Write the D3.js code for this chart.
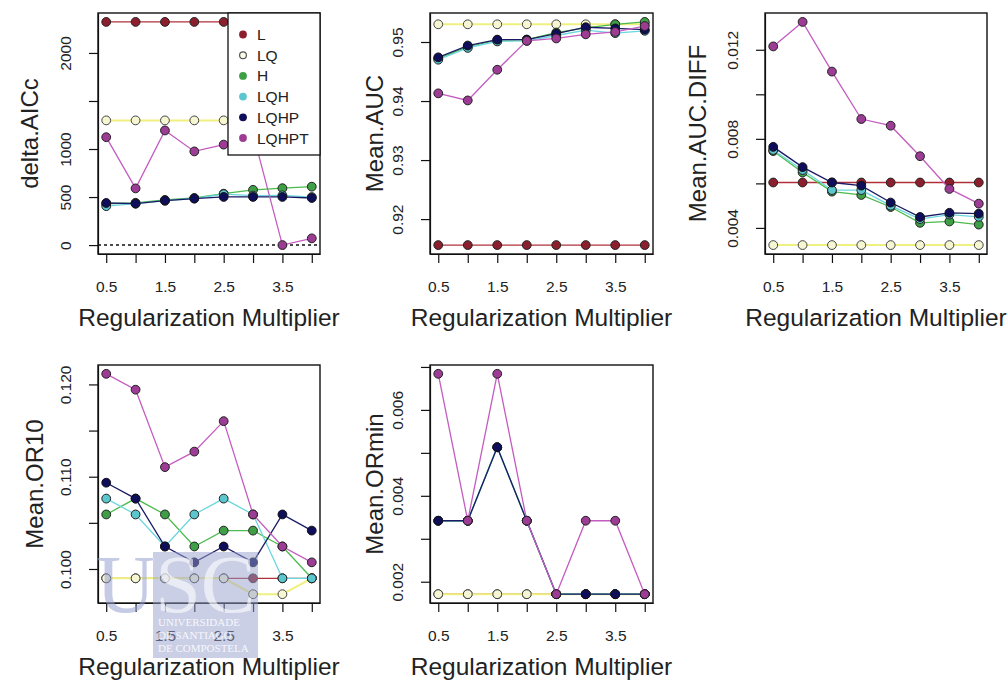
<!DOCTYPE html>
<html>
<head>
<meta charset="utf-8">
<script src="https://cdn.jsdelivr.net/npm/d3@7"></script>
<style>
  html, body { margin: 0; padding: 0; background: #fff; }
  svg { display: block; }
  text { font-family: "Liberation Sans", Arial, Helvetica, sans-serif; fill: #222; }
</style>
</head>
<body>
<svg id="chart" width="1008" height="690"></svg>
<script>
// Regularization multipliers tested for each feature-class set
const rm = [0.5, 1, 1.5, 2, 2.5, 3, 3.5, 4];
const models = ["L", "LQ", "H", "LQH", "LQHP", "LQHPT"];

// One row per model (same order as `models`), one value per multiplier
const deltaAICc = [
  [2323, 2323, 2323, 2323, 2323, 2323, 2323, 2323],
  [1298, 1298, 1298, 1298, 1298, 1298, 1298, 1298],
  [430, 440, 470, 490, 535, 575, 592, 608],
  [405, 432, 462, 485, 530, 515, 518, 500],
  [438, 431, 463, 484, 501, 501, 501, 490],
  [1123, 590, 1193, 975, 1046, 1160, 0, 70]
];
const meanAUC = [
  [0.9156, 0.9156, 0.9156, 0.9156, 0.9156, 0.9156, 0.9156, 0.9156],
  [0.9530, 0.9530, 0.9530, 0.9530, 0.9530, 0.9530, 0.9530, 0.9530],
  [0.9472, 0.9492, 0.9503, 0.9504, 0.9516, 0.9524, 0.9530, 0.9534],
  [0.9470, 0.9490, 0.9501, 0.9502, 0.9511, 0.9520, 0.9515, 0.9519],
  [0.9474, 0.9494, 0.9504, 0.9504, 0.9514, 0.9525, 0.9523, 0.9521],
  [0.9413, 0.9401, 0.9453, 0.9502, 0.9506, 0.9513, 0.9517, 0.9527]
];
const meanAUCdiff = [
  [0.00604, 0.00604, 0.00604, 0.00604, 0.00604, 0.00604, 0.00604, 0.00604],
  [0.00323, 0.00323, 0.00323, 0.00323, 0.00323, 0.00323, 0.00323, 0.00323],
  [0.00745, 0.00649, 0.00563, 0.00548, 0.00494, 0.00423, 0.00429, 0.00415],
  [0.00750, 0.00660, 0.00570, 0.00570, 0.00500, 0.00440, 0.00460, 0.00450],
  [0.00764, 0.00673, 0.00604, 0.00590, 0.00514, 0.00449, 0.00468, 0.00464],
  [0.01215, 0.01325, 0.01102, 0.00889, 0.00859, 0.00722, 0.00575, 0.00509]
];
const meanOR10 = [
  [0.09899, 0.09899, 0.09899, 0.09899, 0.09899, 0.09899, 0.09899, 0.09899],
  [0.09899, 0.09899, 0.09899, 0.09899, 0.09899, 0.09727, 0.09727, 0.09899],
  [0.10591, 0.10763, 0.10591, 0.10244, 0.10416, 0.10416, 0.10244, 0.09899],
  [0.10763, 0.10591, 0.10244, 0.10591, 0.10763, 0.10591, 0.09899, 0.09899],
  [0.10935, 0.10763, 0.10244, 0.10072, 0.10244, 0.10072, 0.10591, 0.10416],
  [0.12115, 0.11943, 0.11104, 0.11272, 0.11602, 0.10591, 0.10244, 0.10072]
];
const meanORmin = [
  [0.00171, 0.00171, 0.00171, 0.00171, 0.00171, 0.00171, 0.00171, 0.00171],
  [0.00171, 0.00171, 0.00171, 0.00171, 0.00171, 0.00171, 0.00171, 0.00171],
  [0.00342, 0.00342, 0.00513, 0.00342, 0.00171, 0.00171, 0.00171, 0.00171],
  [0.00342, 0.00342, 0.00513, 0.00342, 0.00171, 0.00171, 0.00171, 0.00171],
  [0.00342, 0.00342, 0.00513, 0.00342, 0.00171, 0.00171, 0.00171, 0.00171],
  [0.00684, 0.00342, 0.00684, 0.00342, 0.00171, 0.00342, 0.00342, 0.00171]
];

// Axis ticks and their printed labels ("" = tick without label)
const xTicks = [0.5, 1, 1.5, 2, 2.5, 3, 3.5, 4];
const xTickLabels = ["0.5", "", "1.5", "", "2.5", "", "3.5", ""];
const aiccTicks = [0, 500, 1000, 1500, 2000];
const aiccLabels = ["0", "500", "1000", "", "2000"];
const aucTicks = [0.92, 0.93, 0.94, 0.95];
const aucLabels = ["0.92", "0.93", "0.94", "0.95"];
const diffTicks = [0.004, 0.006, 0.008, 0.010, 0.012];
const diffLabels = ["0.004", "", "0.008", "", "0.012"];
const or10Ticks = [0.100, 0.105, 0.110, 0.115, 0.120];
const or10Labels = ["0.100", "", "0.110", "", "0.120"];
const orminTicks = [0.002, 0.003, 0.004, 0.005, 0.006, 0.007];
const orminLabels = ["0.002", "", "0.004", "", "0.006", ""];
const xTitle = "Regularization Multiplier";

// Drawing styles per model
const style = {
  L:     { line: "#b0303a", fill: "#8c1f2e", stroke: "#222" },
  LQ:    { line: "#f0f080", fill: "#f6f6d2", stroke: "#444", width: 2 },
  H:     { line: "#4cba4c", fill: "#3f9f46", stroke: "#222" },
  LQH:   { line: "#6cd6de", fill: "#5cc6ce", stroke: "#222" },
  LQHP:  { line: "#1a1a66", fill: "#0e0e5a", stroke: "#111" },
  LQHPT: { line: "#c45cc0", fill: "#9c3c94", stroke: "#222" }
};

// Panel frames: [left, top, right, bottom] and y-title baseline x
const panels = [
  { title: "delta.AICc",   values: deltaAICc,   ticks: aiccTicks,  labels: aiccLabels,  box: [98, 13, 320, 254],  titleX: 38,  legend: true, zero: true },
  { title: "Mean.AUC",     values: meanAUC,     ticks: aucTicks,   labels: aucLabels,   box: [430, 13, 653, 254], titleX: 383 },
  { title: "Mean.AUC.DIFF",values: meanAUCdiff, ticks: diffTicks,  labels: diffLabels,  box: [765, 13, 987, 254], titleX: 706 },
  { title: "Mean.OR10",    values: meanOR10,    ticks: or10Ticks,  labels: or10Labels,  box: [98, 365, 320, 603], titleX: 43 },
  { title: "Mean.ORmin",   values: meanORmin,   ticks: orminTicks, labels: orminLabels, box: [430, 365, 653, 603], titleX: 383 }
];

const svg = d3.select("#chart");

// R-style 4% range padding
function padded(ext) {
  const r = ext[1] - ext[0];
  return [ext[0] - 0.04 * r, ext[1] + 0.04 * r];
}

panels.forEach((p, pi) => {
  const [x0, y0, x1, y1] = p.box;
  const x = d3.scaleLinear().domain(padded(d3.extent(rm))).range([x0, x1]);
  const y = d3.scaleLinear().domain(padded(d3.extent(p.values.flat()))).range([y1, y0]);
  const g = svg.append("g");

  const clipId = "clip" + pi;
  svg.append("clipPath").attr("id", clipId)
    .append("rect").attr("x", x0).attr("y", y0).attr("width", x1 - x0).attr("height", y1 - y0);
  const plot = g.append("g").attr("clip-path", `url(#${clipId})`);

  if (p.zero) {
    plot.append("line")
      .attr("x1", x0).attr("x2", x1).attr("y1", y(0)).attr("y2", y(0))
      .attr("stroke", "#111").attr("stroke-width", 1.6).attr("stroke-dasharray", "3,3");
  }

  const line = d3.line().x((d, i) => x(rm[i])).y(d => y(d));
  models.forEach((m, mi) => {
    const s = style[m];
    const vals = p.values[mi];
    plot.append("path").attr("d", line(vals))
      .attr("fill", "none").attr("stroke", s.line).attr("stroke-width", s.width || 1.3);
    plot.selectAll(null).data(vals).enter().append("circle")
      .attr("cx", (d, i) => x(rm[i])).attr("cy", d => y(d)).attr("r", 4.4)
      .attr("fill", s.fill).attr("stroke", s.stroke).attr("stroke-width", 1);
  });

  // Axes
  const ax = g.append("g").attr("transform", `translate(0,${y1})`)
    .call(d3.axisBottom(x).tickValues(xTicks).tickFormat((d, i) => xTickLabels[i]).tickSize(9).tickSizeOuter(0));
  ax.selectAll("text").attr("y", 38).attr("dy", null).style("font-size", "15.5px");

  const ay = g.append("g").attr("transform", `translate(${x0},0)`)
    .call(d3.axisLeft(y).tickValues(p.ticks).tickFormat((d, i) => p.labels[i]).tickSize(9).tickSizeOuter(0));
  ay.selectAll("text")
    .attr("x", null).attr("dy", null).attr("text-anchor", "middle")
    .attr("transform", "translate(-27,0) rotate(-90)")
    .style("font-size", "15.5px");

  [ax, ay].forEach(a => {
    a.select(".domain").attr("stroke", "#111").attr("stroke-width", 1.2);
    a.selectAll(".tick line").attr("stroke", "#111").attr("stroke-width", 1.2);
    a.selectAll("text").attr("font-family", null).attr("fill", "#2a2a2a");
  });

  // Frame
  g.append("rect").attr("x", x0).attr("y", y0).attr("width", x1 - x0).attr("height", y1 - y0)
    .attr("fill", "none").attr("stroke", "#111").attr("stroke-width", 1.4);

  // Titles
  g.append("text").attr("x", (x0 + x1) / 2).attr("y", y1 + 72)
    .attr("text-anchor", "middle").style("font-size", "24.5px").text(xTitle);
  g.append("text")
    .attr("transform", `translate(${p.titleX},${(y0 + y1) / 2}) rotate(-90)`)
    .attr("text-anchor", "middle").style("font-size", "24px").text(p.title);

  if (p.legend) {
    const lg = g.append("g");
    lg.append("rect").attr("x", 228).attr("y", y0).attr("width", x1 - 228).attr("height", 142)
      .attr("fill", "#fff").attr("stroke", "#111").attr("stroke-width", 1.3);
    models.forEach((m, mi) => {
      const cy = y0 + 21.5 + mi * 20.7;
      const s = style[m];
      lg.append("circle").attr("cx", 243).attr("cy", cy).attr("r", m === "LQ" ? 3.4 : 3.9)
        .attr("fill", m === "LQ" ? "#fbfbe8" : s.fill)
        .attr("stroke", m === "LQ" ? "#555" : "none").attr("stroke-width", 1.2);
      lg.append("text").attr("x", 257).attr("y", cy + 5.5)
        .style("font-size", "15.5px").text(m);
    });
  }
});

// University watermark stamped over the lower-left panel
const wm = svg.append("g").attr("pointer-events", "none");
const blk = { x: 153, y: 552, w: 105, h: 106 };
svg.append("clipPath").attr("id", "wmOut")
  .append("rect").attr("x", 0).attr("y", 540).attr("width", blk.x).attr("height", 150);
svg.append("clipPath").attr("id", "wmIn")
  .append("rect").attr("x", blk.x).attr("y", blk.y).attr("width", blk.w).attr("height", blk.h);
wm.append("text").attr("x", 96).attr("y", 612)
  .attr("clip-path", "url(#wmOut)")
  .style("font-family", "'Liberation Serif', 'DejaVu Serif', serif").style("font-size", "82px")
  .style("fill", "rgba(150,160,205,0.55)").text("USC");
wm.append("rect").attr("x", blk.x).attr("y", blk.y).attr("width", blk.w).attr("height", blk.h)
  .attr("fill", "rgba(150,160,205,0.5)");
wm.append("text").attr("x", 96).attr("y", 612)
  .attr("clip-path", "url(#wmIn)")
  .style("font-family", "'Liberation Serif', 'DejaVu Serif', serif").style("font-size", "82px")
  .style("fill", "rgba(255,255,255,0.6)").text("USC");
["UNIVERSIDADE", "DE SANTIAGO", "DE COMPOSTELA"].forEach((t, i) => {
  wm.append("text").attr("x", 158).attr("y", 626 + i * 13)
    .style("font-family", "'Liberation Serif', 'DejaVu Serif', serif").style("font-size", "11px")
    .style("fill", "rgba(255,255,255,0.85)").text(t);
});
</script>
</body>
</html>
